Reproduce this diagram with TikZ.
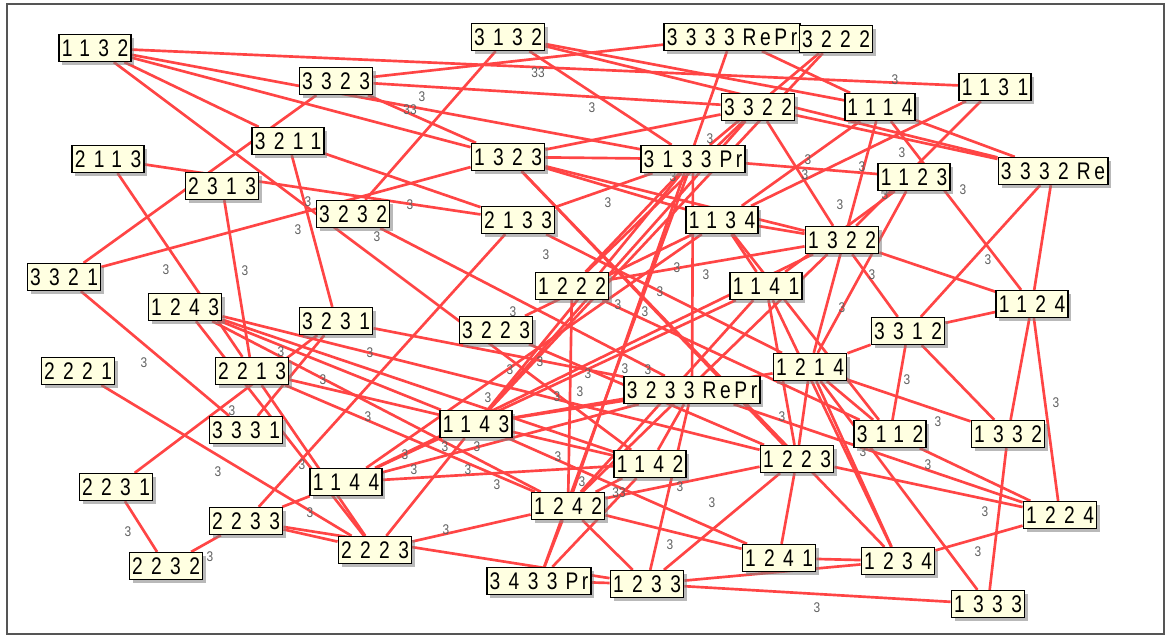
\documentclass[tikz,border=0pt]{standalone}
\usepackage{fontspec}
\usetikzlibrary{shadows}
\newfontfamily\boxfont[FakeStretch=0.8,LetterSpace=35]{Liberation Sans}
\newfontfamily\wtfont[FakeStretch=0.85]{Liberation Sans}
\newcommand\stsuffix[1]{{\kern6pt\addfontfeature{LetterSpace=15}#1}}
\definecolor{edgered}{HTML}{FF4545}
\definecolor{cream}{HTML}{FFFFE1}
\definecolor{framegrey}{HTML}{555555}
\definecolor{wtgrey}{HTML}{606060}
\pgfdeclarelayer{edges}
\pgfsetlayers{edges,main}

\begin{document}
\begin{tikzpicture}[
    x=0.75pt, y=-0.75pt,
    state/.style={
        draw=black, line width=1.2pt, fill=cream,
        font=\boxfont\fontsize{18}{18}\selectfont,
        inner xsep=2pt, inner ysep=0pt, minimum height=20pt,
        drop shadow={shadow xshift=2.5pt, shadow yshift=-2.5pt, fill=black!50, opacity=0.55},
    },
    link/.style={draw=edgered, line width=2pt},
    wt/.style={font=\wtfont\fontsize{10.5}{10.5}\selectfont, text=wtgrey, inner sep=0pt},
]

% ── Canvas and frame ──
\useasboundingbox (0,0) rectangle (1169,637);
\draw[framegrey, line width=1.5pt] (7,4) rectangle (1164,634);

% ── States ──
\node[state] (n1132) at (95,48) {1132};
\node[state] (n3132) at (508,37) {3132};
\node[state] (n3333RePr) at (732,37) {3333\stsuffix{RePr}};
\node[state] (n3222) at (836,39) {3222};
\node[state] (n3323) at (336,81) {3323};
\node[state] (n1131) at (995,87) {1131};
\node[state] (n3322) at (758,107) {3322};
\node[state] (n1114) at (880,107) {1114};
\node[state] (n3211) at (288,141) {3211};
\node[state] (n2113) at (108,159) {2113};
\node[state] (n1323) at (508,157) {1323};
\node[state] (n3133Pr) at (693,159) {3133\stsuffix{Pr}};
\node[state] (n2313) at (222,186) {2313};
\node[state] (n1123) at (914,177) {1123};
\node[state] (n3332Re) at (1053,171) {3332\stsuffix{Re}};
\node[state] (n3232) at (353,214) {3232};
\node[state] (n2133) at (518,220) {2133};
\node[state] (n1134) at (722,220) {1134};
\node[state] (n1322) at (842,240) {1322};
\node[state] (n3321) at (64,277) {3321};
\node[state] (n1222) at (572,286) {1222};
\node[state] (n1141) at (766,286) {1141};
\node[state] (n1243) at (185,307) {1243};
\node[state] (n1124) at (1032,304) {1124};
\node[state] (n3231) at (336,321) {3231};
\node[state] (n3223) at (496,330) {3223};
\node[state] (n3312) at (908,331) {3312};
\node[state] (n2221) at (78,371) {2221};
\node[state] (n2213) at (252,371) {2213};
\node[state] (n1214) at (810,367) {1214};
\node[state] (n3233RePr) at (692,390) {3233\stsuffix{RePr}};
\node[state] (n3331) at (246,430) {3331};
\node[state] (n1143) at (476,424) {1143};
\node[state] (n3112) at (890,434) {3112};
\node[state] (n1332) at (1008,434) {1332};
\node[state] (n1142) at (650,464) {1142};
\node[state] (n1223) at (797,459) {1223};
\node[state] (n2231) at (116,487) {2231};
\node[state] (n1144) at (346,482) {1144};
\node[state] (n1242) at (568,506) {1242};
\node[state] (n1224) at (1060,515) {1224};
\node[state] (n2233) at (246,521) {2233};
\node[state] (n2223) at (375,550) {2223};
\node[state] (n2232) at (166,566) {2232};
\node[state] (n1241) at (779,558) {1241};
\node[state] (n1234) at (898,561) {1234};
\node[state] (n3433Pr) at (539,581) {3433\stsuffix{Pr}};
\node[state] (n1233) at (647,584) {1233};
\node[state] (n1333) at (988,604) {1333};

% ── Transitions ──
\begin{pgfonlayer}{edges}
\foreach \a/\b in {1132/1131, 1132/1323, 1132/3211, 1132/1142, 1132/3133Pr,
    3323/3333RePr, 3323/3322, 3323/1323, 3323/3321, 3132/3232, 3132/3332Re,
    3132/3133Pr, 3132/1114, 1323/3322, 1323/3133Pr, 1323/1134, 1323/1322,
    1323/1223, 1323/1234, 1323/3321, 2113/2133, 2133/2233, 2133/1214,
    2133/3133Pr, 3211/2133, 3211/3231, 2313/2213, 2113/2213, 3321/3331,
    1243/1223, 1243/1143, 1243/1142, 1243/1242, 1243/2223, 2213/2223,
    1143/3233RePr, 1143/1214, 1143/3133Pr, 1144/1142, 1144/3233RePr,
    1144/1141, 1144/1134, 1144/2233, 2231/3231, 3331/3231, 2233/2223,
    2233/1233, 2223/1242, 2223/1143, 3232/3233RePr, 3223/1223, 3231/3233RePr,
    1131/1322, 1131/1134, 3333RePr/1114, 1114/1134, 1114/1214, 1114/1124,
    1114/3332Re, 3322/3332Re, 3322/1322, 1322/3312, 3322/1222, 3322/1143,
    3333RePr/1242, 3133Pr/3433Pr, 3133Pr/3233RePr, 3233RePr/1233, 1233/1223,
    3222/3133Pr, 3222/1143, 3133Pr/1123, 1123/1141, 1123/1214, 3332Re/1124,
    3332Re/3312, 1134/1322, 1222/1322, 1322/1124, 1322/1144, 1322/1242,
    1141/1234, 1214/1234, 1214/1333, 1214/3312, 1214/1332, 1214/3112,
    1214/1223, 3312/1124, 3312/3112, 3312/1332, 1124/1332, 1124/1224,
    1332/1333, 3112/1224, 1134/3112, 3233RePr/1224, 1223/1224, 1223/1241,
    1223/1242, 1141/1223, 1241/1234, 1242/1241, 1143/1241, 1234/1224,
    1233/1333, 1233/1234, 1134/1141, 1141/1242, 1222/1242, 1222/3112,
    3233RePr/1142, 1142/1242, 1142/3433Pr, 1242/3433Pr, 1242/1233,
    3433Pr/1233, 2231/2232, 2232/2233, 2221/2223, 2213/1242, 2213/1142,
    3133Pr/1222, 1134/3223}
    \draw[link] (n\a) -- (n\b);

% ── Weights ──
\foreach \x/\y [count=\i] in {422/97, 592/108, 895/80, 710/139, 673/177,
    808/160, 805/175, 862/167, 902/153, 885/195, 963/190, 840/205, 988/260,
    872/275, 842/308, 298/230, 308/202, 377/237, 410/205, 166/270, 245/271,
    608/203, 546/255, 677/268, 706/275, 660/292, 618/305, 645/312, 513/312,
    540/362, 510/370, 588/374, 557/397, 488/398, 625/369, 648/370, 445/447,
    477/447, 405/455, 414/470, 468/470, 497/485, 558/457, 582/482, 680/487,
    712/503, 446/530, 670/545, 144/363, 232/411, 218/472, 128/532, 210/557,
    302/465, 310/513, 281/352, 323/380, 370/353, 368/417, 907/380, 782/417,
    938/422, 863/452, 928/465, 985/512, 978/552, 1056/403, 817/608, 580/392}
    \node[wt] (w\i) at (\x,\y) {3};
\node[wt] (wa) at (538,73) {33};
\node[wt] (wb) at (410,110) {33};
\node[wt] (wc) at (619,493) {33};
\end{pgfonlayer}

\end{tikzpicture}
\end{document}
